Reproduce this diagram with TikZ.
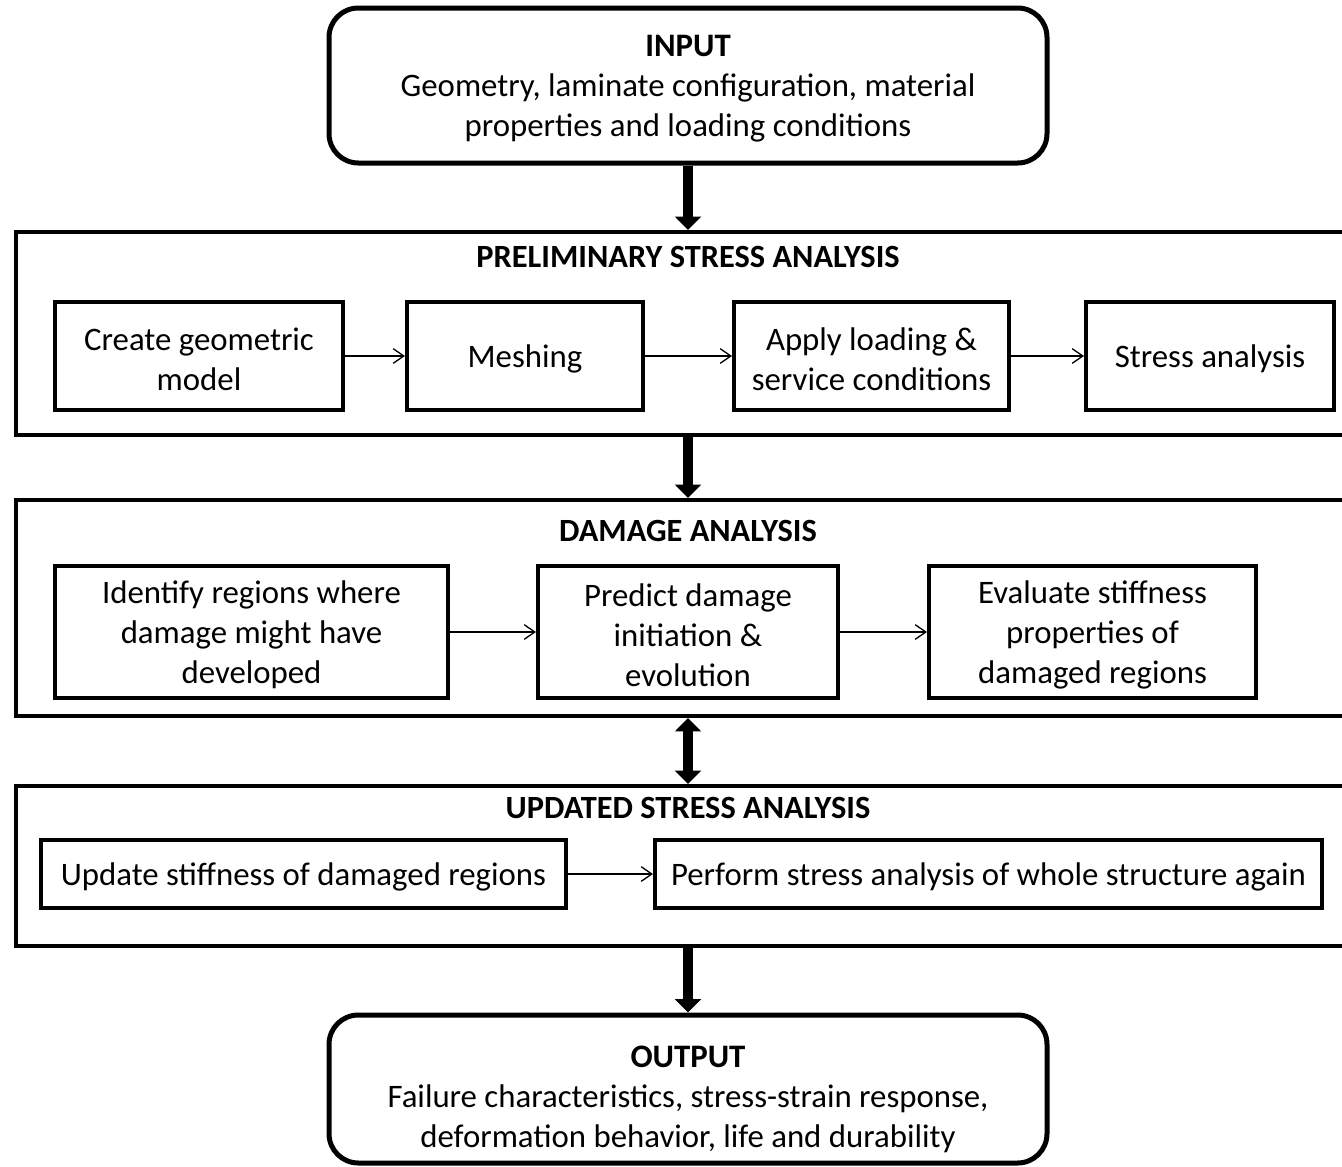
\documentclass[tikz,border=0pt]{standalone}
\usepackage{fontspec}
\setmainfont{Carlito}
\usetikzlibrary{arrows.meta}
\begin{document}
\begin{tikzpicture}[x=0.75pt,y=-0.75pt,
  font=\fontsize{24.6}{30}\selectfont,
  lbl/.style={align=center, inner sep=0pt, yshift=-2.4pt},
  iobox/.style={draw, line width=3.75pt, rounded corners=22pt, inner sep=0pt, minimum width=538.5pt},
  frame/.style={draw, line width=3pt, minimum width=1008pt, inner sep=0pt},
  stepbox/.style={draw, line width=3pt, inner sep=0pt},
  title/.style={font=\fontsize{24.3}{30}\selectfont\bfseries, inner sep=0pt},
  thin/.style={line width=1pt, -{Straight Barb[length=8pt,width=11pt]}},
  big/.style={line width=7.5pt, -{Triangle[length=10pt,width=19pt]}},
  bigboth/.style={line width=7.5pt, {Triangle[length=10pt,width=19pt]}-{Triangle[length=10pt,width=19pt]}}
]
\useasboundingbox (0,0) rectangle (1342,1167);
\clip (0,0) rectangle (1342,1167);

% INPUT
\node[iobox, minimum height=116.25pt,
  label={[lbl]center:{\textbf{INPUT}\\Geometry, laminate configuration, material\\properties and loading conditions}}] (in) at (688,85.5) {};

% PRELIMINARY
\node[frame, minimum height=152.25pt] (pre) at (688,333.5) {};
\node[title] (pret) at (688,257) {PRELIMINARY STRESS ANALYSIS};
\node[stepbox, minimum width=216pt, minimum height=81pt, label={[lbl]center:{Create geometric\\model}}] (p1) at (199,356) {};
\node[stepbox, minimum width=177pt, minimum height=81pt, label={[lbl]center:{Meshing}}] (p2) at (525,356) {};
\node[stepbox, minimum width=206.25pt, minimum height=81pt, label={[lbl]center:{Apply loading \&\\service conditions}}] (p3) at (871.5,356) {};
\node[stepbox, minimum width=186pt, minimum height=81pt, label={[lbl]center:{Stress analysis}}] (p4) at (1210,356) {};
\draw[thin] (p1) -- (p2);
\draw[thin] (p2) -- (p3);
\draw[thin] (p3) -- (p4);

% DAMAGE
\node[frame, minimum height=162pt] (dam) at (688,608) {};
\node[title] (damt) at (688,531) {DAMAGE ANALYSIS};
\node[stepbox, minimum width=294.75pt, minimum height=99pt, label={[lbl]center:{Identify regions where\\damage might have\\developed}}] (d1) at (251.5,632) {};
\node[stepbox, minimum width=225pt, minimum height=99pt, label={[lbl]center:{Predict damage\\initiation \&\\evolution}}] (d2) at (688,632) {};
\node[stepbox, minimum width=245.25pt, minimum height=99pt, label={[lbl]center:{Evaluate stiffness\\properties of\\damaged regions}}] (d3) at (1092.5,632) {};
\draw[thin] (d1) -- (d2);
\draw[thin] (d2) -- (d3);

% UPDATED
\node[frame, minimum height=120pt] (upd) at (688,866) {};
\node[title] (updt) at (688,808) {UPDATED STRESS ANALYSIS};
\node[stepbox, minimum width=393.75pt, minimum height=51pt, label={[lbl]center:{Update stiffness of damaged regions}}] (u1) at (303.5,874) {};
\node[stepbox, minimum width=500.25pt, minimum height=51pt, label={[lbl]center:{Perform stress analysis of whole structure again}}] (u2) at (988.5,874) {};
\draw[thin] (u1) -- (u2);

% OUTPUT
\node[iobox, minimum height=111pt,
  label={[lbl, yshift=-5.1pt]center:{\textbf{OUTPUT}\\Failure characteristics, stress-strain response,\\deformation behavior, life and durability}}] (out) at (688,1089) {};

% main arrows
\draw[big] (in.south) -- (pre.north);
\draw[big] (pre.south) -- (dam.north);
\draw[bigboth] (dam.south) -- (upd.north);
\draw[big] (upd.south) -- (out.north);
\end{tikzpicture}
\end{document}
